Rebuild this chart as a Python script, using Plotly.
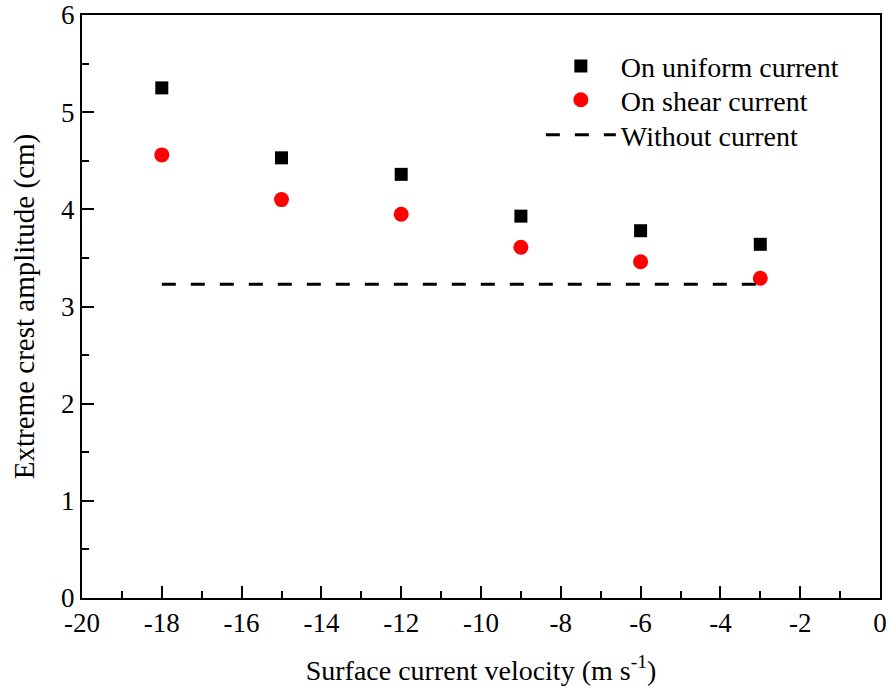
import plotly.graph_objects as go

velocity = [-18, -15, -12, -9, -6, -3]
uniform_amp = [5.25, 4.53, 4.36, 3.93, 3.78, 3.64]
shear_amp = [4.56, 4.10, 3.95, 3.61, 3.46, 3.29]
no_current_x = [-18, -3]
no_current_amp = [3.23, 3.23]
x_ticks = [-20, -18, -16, -14, -12, -10, -8, -6, -4, -2, 0]
y_ticks = [0, 1, 2, 3, 4, 5, 6]

FONT = "'Times New Roman', 'Liberation Serif', serif"

fig = go.Figure()
fig.add_trace(go.Scatter(
    x=velocity, y=uniform_amp, mode="markers", name="On uniform current",
    marker=dict(symbol="square", size=13, color="black", line=dict(width=0)),
    legend="legend",
))
fig.add_trace(go.Scatter(
    x=velocity, y=shear_amp, mode="markers", name="On shear current",
    marker=dict(symbol="circle", size=15, color="red", line=dict(width=0)),
    legend="legend2",
))
fig.add_trace(go.Scatter(
    x=no_current_x, y=no_current_amp, mode="lines", name="Without current",
    line=dict(color="black", width=3, dash="14px,15px"),
    legend="legend3",
))

axis_common = dict(
    showline=True, linecolor="black", linewidth=2, mirror=True,
    ticks="inside", ticklen=12, tickwidth=2, tickcolor="black",
    showgrid=False, zeroline=False, automargin=False,
    tickfont=dict(family=FONT, size=27, color="black"),
)

fig.update_xaxes(
    range=[-20, 0], tickmode="array", tickvals=x_ticks,
    ticktext=[str(v) for v in x_ticks],
    minor=dict(ticks="inside", ticklen=7, tickwidth=2, tickcolor="black", dtick=1, tick0=0, showgrid=False),
    title=dict(text="Surface current velocity (m s<sup>-1</sup>)",
               font=dict(family=FONT, size=28, color="black"), standoff=23),
    **axis_common,
)
fig.update_yaxes(
    range=[0, 6], tickmode="array", tickvals=y_ticks,
    ticktext=[str(v) for v in y_ticks],
    minor=dict(ticks="inside", ticklen=7, tickwidth=2, tickcolor="black", dtick=0.5, tick0=0, showgrid=False),
    title=dict(text="Extreme crest amplitude (cm)",
               font=dict(family=FONT, size=29, color="black"), standoff=18),
    **axis_common,
)

leg_common = dict(
    x=0.575, xanchor="left", yanchor="top", itemwidth=70,
    font=dict(family=FONT, size=28, color="black"),
    bgcolor="rgba(0,0,0,0)", borderwidth=0,
)

fig.update_layout(
    width=889, height=696,
    margin=dict(l=82, r=9, t=15, b=98, autoexpand=False),
    paper_bgcolor="white", plot_bgcolor="white",
    font=dict(family=FONT, color="black"),
    showlegend=True,
    legend=dict(y=0.955, **leg_common),
    legend2=dict(y=0.897, **leg_common),
    legend3=dict(y=0.837, **leg_common),
)

fig.write_html("out.html")
